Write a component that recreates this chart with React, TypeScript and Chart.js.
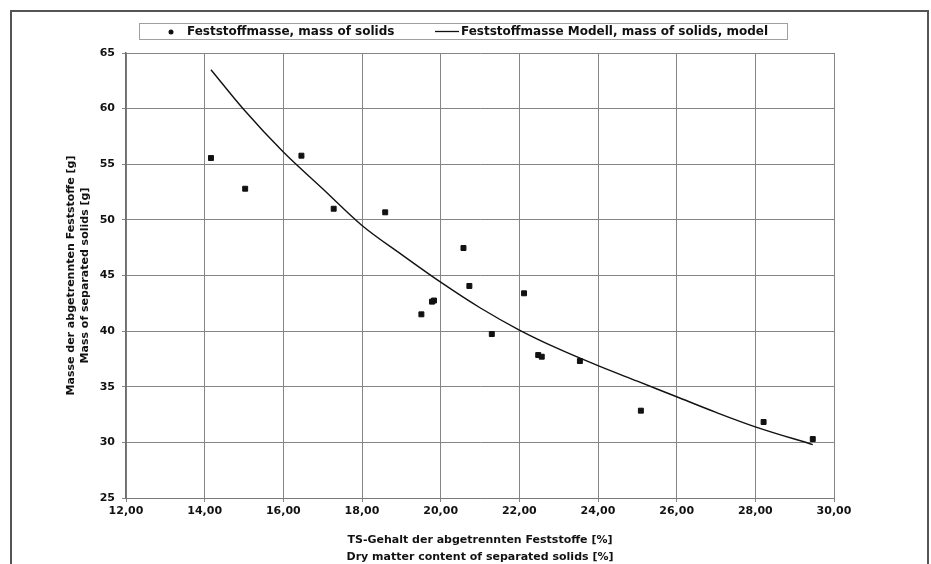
import React, { useEffect, useRef } from 'react';
import { Chart, registerables } from 'chart.js';

Chart.register(...registerables);

const FONT = '"DejaVu Sans", "Liberation Sans", Arial, sans-serif';

// Measured points: Feststoffmasse (mass of solids)
const solidsX = [14.16, 15.03, 16.46, 17.28, 18.59, 19.51, 19.78, 19.83, 20.58, 20.73, 21.3, 22.12, 22.48, 22.57, 23.54, 25.09, 28.21, 29.46];
const solidsY = [55.56, 52.8, 55.77, 51.0, 50.68, 41.51, 42.65, 42.75, 47.47, 44.06, 39.74, 43.4, 37.85, 37.7, 37.31, 32.85, 31.83, 30.3];

// Model curve
const modelX = [14.16, 15.0, 16.0, 17.0, 18.0, 19.0, 20.0, 21.0, 22.0, 23.0, 24.0, 25.0, 26.0, 27.0, 28.0, 29.46];
const modelY = [63.5, 59.9, 56.1, 52.8, 49.5, 46.9, 44.4, 42.1, 40.1, 38.4, 36.9, 35.5, 34.1, 32.7, 31.4, 29.8];

const xTicks = [12, 14, 16, 18, 20, 22, 24, 26, 28, 30];
const yTicks = [25, 30, 35, 40, 45, 50, 55, 60, 65];

const legendLabels = ['Feststoffmasse, mass of solids', 'Feststoffmasse Modell, mass of solids, model'];
const xTitle = ['TS-Gehalt der abgetrennten Feststoffe [%]', 'Dry matter content of separated solids [%]'];
const yTitle = ['Masse der abgetrennten Feststoffe [g]', 'Mass of separated solids [g]'];

const GRID = '#858585';

const framePlugin = {
  id: 'framePlugin',
  beforeDraw(chart: any) {
    const ctx = chart.ctx;
    ctx.save();
    ctx.fillStyle = '#ffffff';
    ctx.fillRect(0, 0, chart.width, chart.height);
    ctx.restore();
  },
  afterDraw(chart: any) {
    const ctx = chart.ctx;
    ctx.save();
    // outer frame
    ctx.strokeStyle = '#555555';
    ctx.lineWidth = 2;
    ctx.strokeRect(11, 11, 917, 620);
    // legend box
    ctx.strokeStyle = '#a0a0a0';
    ctx.lineWidth = 1;
    ctx.strokeRect(139.5, 23.5, 648, 16);
    ctx.fillStyle = '#111111';
    ctx.beginPath();
    ctx.arc(171, 32, 2.5, 0, Math.PI * 2);
    ctx.fill();
    ctx.strokeStyle = '#111111';
    ctx.lineWidth = 1.3;
    ctx.beginPath();
    ctx.moveTo(435, 31.5);
    ctx.lineTo(459, 31.5);
    ctx.stroke();
    ctx.font = 'bold 12px ' + FONT;
    ctx.textBaseline = 'middle';
    ctx.textAlign = 'left';
    ctx.fillText(legendLabels[0], 187, 32);
    ctx.fillText(legendLabels[1], 461, 32);
    ctx.restore();
  },
};

export default function App() {
  const ref = useRef<HTMLCanvasElement | null>(null);

  useEffect(() => {
    if (!ref.current) return;
    const chart = new Chart(ref.current, {
      type: 'scatter',
      data: {
        datasets: [
          {
            label: legendLabels[0],
            data: solidsX.map((x, i) => ({ x, y: solidsY[i] })),
            pointStyle: 'rect',
            pointRadius: 3.5,
            pointBorderWidth: 1,
            backgroundColor: '#111111',
            borderColor: '#111111',
            showLine: false,
            order: 1,
          },
          {
            label: legendLabels[1],
            data: modelX.map((x, i) => ({ x, y: modelY[i] })),
            showLine: true,
            pointRadius: 0,
            borderColor: '#111111',
            borderWidth: 1.4,
            cubicInterpolationMode: 'monotone',
            order: 2,
          },
        ],
      },
      options: {
        responsive: false,
        animation: false,
        layout: { padding: { left: 0, top: 53, right: 97, bottom: 0 } },
        plugins: {
          legend: { display: false },
          tooltip: { enabled: false },
        },
        scales: {
          x: {
            type: 'linear',
            min: 12,
            max: 30,
            afterBuildTicks: (s: any) => {
              s.ticks = xTicks.map((v) => ({ value: v }));
            },
            afterFit: (s: any) => {
              s.height = 66;
            },
            ticks: {
              color: '#111111',
              font: { family: FONT, size: 11, weight: 'bold' },
              padding: 3,
              maxRotation: 0,
              callback: (v: any) => Number(v).toFixed(2).replace('.', ','),
            },
            grid: { color: GRID, lineWidth: 1, tickLength: 4, tickColor: GRID },
            border: { color: '#7a7a7a', width: 1 },
            title: {
              display: true,
              text: xTitle,
              color: '#111111',
              font: { family: FONT, size: 11, weight: 'bold', lineHeight: 1.55 },
              padding: { top: 0, bottom: -2 },
            },
          },
          y: {
            type: 'linear',
            min: 25,
            max: 65,
            afterBuildTicks: (s: any) => {
              s.ticks = yTicks.map((v) => ({ value: v }));
            },
            afterFit: (s: any) => {
              s.width = 126;
            },
            ticks: {
              color: '#111111',
              font: { family: FONT, size: 11, weight: 'bold' },
              padding: 7,
              callback: (v: any) => String(v),
            },
            grid: { color: GRID, lineWidth: 1, tickLength: 4, tickColor: GRID },
            border: { color: '#6e6e6e', width: 1.5 },
            title: {
              display: true,
              text: yTitle,
              color: '#111111',
              font: { family: FONT, size: 11, weight: 'bold', lineHeight: 1.2 },
              padding: { top: 65, bottom: 0 },
            },
          },
        },
      },
      plugins: [framePlugin],
    } as any);
    return () => chart.destroy();
  }, []);

  return (
    <div style={{ position: 'fixed', left: 0, top: 0, width: 931, height: 564 }}>
      <canvas ref={ref} width={931} height={564} style={{ display: 'block', width: 931, height: 564 }} />
    </div>
  );
}
